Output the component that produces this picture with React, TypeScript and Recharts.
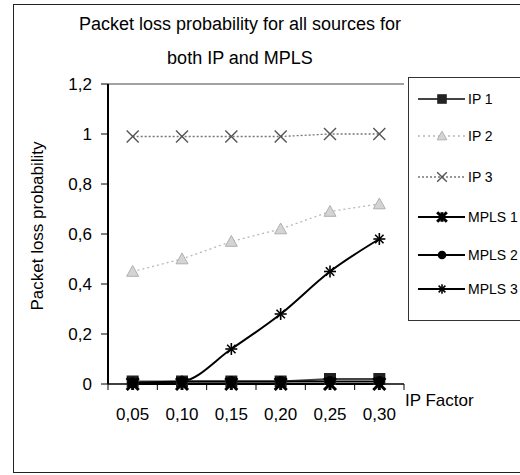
import React from "react";
import { LineChart, Line, XAxis, YAxis, ReferenceLine } from "recharts";

const FONT = '"Liberation Sans", Arial, Helvetica, sans-serif';

// IP factor categories and loss probability per source
const ipFactor = ["0,05", "0,10", "0,15", "0,20", "0,25", "0,30"];
const ip1 = [0.01, 0.01, 0.01, 0.01, 0.02, 0.02];
const ip2 = [0.45, 0.5, 0.57, 0.62, 0.69, 0.72];
const ip3 = [0.99, 0.99, 0.99, 0.99, 1.0, 1.0];
const mpls1 = [0, 0, 0, 0, 0, 0];
const mpls2 = [0.005, 0.01, 0.01, 0.01, 0.01, 0.01];
const mpls3 = [0, 0.01, 0.14, 0.28, 0.45, 0.58];
const yTicks = [0, 0.2, 0.4, 0.6, 0.8, 1, 1.2];

const W = 520;
const H = 475;
const X_AXIS_H = 30;
const MARGIN = { top: 84, right: 116, bottom: 91 - X_AXIS_H, left: 20 };
const Y_AXIS_W = 88;
const PLOT_W = W - MARGIN.left - Y_AXIS_W - MARGIN.right;
const HALF_BAND = PLOT_W / ipFactor.length / 2;

type MarkerKind = "square" | "triangle" | "cross" | "star" | "circle" | "plus";

type Series = {
  key: string;
  name: string;
  values: number[];
  stroke: string;
  width: number;
  dash?: string;
  marker: MarkerKind;
  color: string;
  curve: "linear" | "monotone";
};

const series: Series[] = [
  { key: "ip1", name: "IP 1", values: ip1, stroke: "#444", width: 2, marker: "square", color: "#222", curve: "linear" },
  { key: "ip2", name: "IP 2", values: ip2, stroke: "#b8b8b8", width: 1.3, dash: "2 3", marker: "triangle", color: "#b0b0b0", curve: "linear" },
  { key: "ip3", name: "IP 3", values: ip3, stroke: "#777", width: 1.3, dash: "2 2", marker: "cross", color: "#555", curve: "linear" },
  { key: "mpls1", name: "MPLS 1", values: mpls1, stroke: "#000", width: 2, marker: "star", color: "#000", curve: "linear" },
  { key: "mpls2", name: "MPLS 2", values: mpls2, stroke: "#000", width: 2, marker: "circle", color: "#000", curve: "linear" },
  { key: "mpls3", name: "MPLS 3", values: mpls3, stroke: "#000", width: 2, marker: "plus", color: "#000", curve: "monotone" },
];

// back-to-front drawing order
const drawOrder = ["ip3", "ip2", "mpls3", "ip1", "mpls2", "mpls1"];

const rows = ipFactor.map((x, i) => {
  const row: Record<string, string | number> = { x };
  series.forEach((s) => {
    row[s.key] = s.values[i];
  });
  return row;
});

function Marker({ kind, cx, cy, color, s = 1 }: { kind: MarkerKind; cx: number; cy: number; color: string; s?: number }) {
  const r = 6 * s;
  switch (kind) {
    case "square":
      return <rect x={cx - r} y={cy - r} width={2 * r} height={2 * r} fill={color} />;
    case "triangle":
      return (
        <polygon
          points={`${cx},${cy - r} ${cx + r},${cy + r * 0.8} ${cx - r},${cy + r * 0.8}`}
          fill="#d4d4d4"
          stroke={color}
          strokeWidth={1}
        />
      );
    case "cross":
      return (
        <g stroke={color} strokeWidth={1.4}>
          <line x1={cx - r} y1={cy - r} x2={cx + r} y2={cy + r} />
          <line x1={cx - r} y1={cy + r} x2={cx + r} y2={cy - r} />
        </g>
      );
    case "star":
      return (
        <g stroke={color} strokeWidth={3}>
          <line x1={cx - r} y1={cy - r} x2={cx + r} y2={cy + r} />
          <line x1={cx - r} y1={cy + r} x2={cx + r} y2={cy - r} />
          <line x1={cx} y1={cy - r} x2={cx} y2={cy + r} />
        </g>
      );
    case "circle":
      return <circle cx={cx} cy={cy} r={r * 0.9} fill={color} />;
    case "plus":
      return (
        <g stroke={color} strokeWidth={1.6}>
          <line x1={cx - r} y1={cy} x2={cx + r} y2={cy} />
          <line x1={cx} y1={cy - r} x2={cx} y2={cy + r} />
          <line x1={cx - r * 0.7} y1={cy - r * 0.7} x2={cx + r * 0.7} y2={cy + r * 0.7} />
          <line x1={cx - r * 0.7} y1={cy + r * 0.7} x2={cx + r * 0.7} y2={cy - r * 0.7} />
        </g>
      );
  }
}

function XTick(props: any) {
  const { x, y, payload, index } = props;
  const last = index === ipFactor.length - 1;
  return (
    <g>
      <line x1={x - HALF_BAND} y1={y} x2={x - HALF_BAND} y2={y + 6} stroke="#000" />
      {last && <line x1={x + HALF_BAND} y1={y} x2={x + HALF_BAND} y2={y + 6} stroke="#000" />}
      <text x={x} y={y + 36} textAnchor="middle" fontSize={17} fontFamily={FONT} fill="#000">
        {payload.value}
      </text>
    </g>
  );
}

const fmtY = (v: number) => String(v).replace(".", ",");

function Legend() {
  const rowY = [21, 58, 99, 139, 177, 211];
  return (
    <div
      style={{
        position: "absolute",
        left: 408,
        top: 77,
        width: 140,
        height: 242,
        border: "1px solid #333",
        background: "#fff",
      }}
    >
      <svg width={140} height={242}>
        {series.map((s, i) => (
          <g key={s.key}>
            <line
              x1={9}
              y1={rowY[i]}
              x2={56}
              y2={rowY[i]}
              stroke={s.stroke}
              strokeWidth={s.width}
              strokeDasharray={s.dash}
            />
            <Marker kind={s.marker} cx={33} cy={rowY[i]} color={s.color} s={0.8} />
            <text x={59} y={rowY[i] + 5} fontSize={14} fontFamily={FONT} fill="#000">
              {s.name}
            </text>
          </g>
        ))}
      </svg>
    </div>
  );
}

export default function App() {
  const ordered = drawOrder.map((k) => series.find((s) => s.key === k)!);
  return (
    <div
      style={{
        position: "fixed",
        left: 0,
        top: 0,
        width: W,
        height: H,
        overflow: "hidden",
        background: "#fff",
        fontFamily: FONT,
      }}
    >
      <div
        style={{
          position: "absolute",
          left: 13,
          top: 4,
          width: 560,
          height: 467,
          border: "1px solid #222",
        }}
      />
      <svg width={W} height={80} style={{ position: "absolute", left: 0, top: 0 }}>
        <text x={240} y={30} textAnchor="middle" fontSize={18} fontFamily={FONT} fill="#000">
          Packet loss probability for all sources for
        </text>
        <text x={240} y={64} textAnchor="middle" fontSize={18} fontFamily={FONT} fill="#000">
          both IP and MPLS
        </text>
      </svg>
      <div style={{ position: "absolute", left: 0, top: 0 }}>
        <LineChart width={W} height={H} data={rows} margin={MARGIN}>
          <XAxis
            dataKey="x"
            height={X_AXIS_H}
            padding={{ left: HALF_BAND, right: HALF_BAND }}
            interval={0}
            axisLine={{ stroke: "#000", strokeWidth: 1.5 }}
            tickLine={false}
            tickSize={0}
            tickMargin={0}
            tick={<XTick />}
            label={{
              content: (p: any) => {
                const vb = p.viewBox;
                return (
                  <text x={vb.x + vb.width + 1} y={vb.y + 22} fontSize={17} fontFamily={FONT} fill="#000">
                    IP Factor
                  </text>
                );
              },
            }}
          />
          <YAxis
            yAxisId="left"
            width={Y_AXIS_W}
            domain={[0, 1.2]}
            ticks={yTicks}
            interval={0}
            tickFormatter={fmtY}
            axisLine={{ stroke: "#000", strokeWidth: 2 }}
            tickLine={{ stroke: "#000" }}
            tickSize={7}
            tickMargin={9}
            tick={{ fontSize: 17, fill: "#000", fontFamily: FONT }}
            label={{
              content: () => (
                <text
                  x={37}
                  y={226}
                  transform="rotate(-90 37 226)"
                  textAnchor="middle"
                  dominantBaseline="central"
                  fontSize={17}
                  fontFamily={FONT}
                  fill="#000"
                >
                  Packet loss probability
                </text>
              ),
            }}
          />
          <YAxis
            yAxisId="right"
            orientation="right"
            width={0}
            domain={[0, 1.2]}
            tick={false}
            tickLine={false}
            axisLine={{ stroke: "#444" }}
          />
          <ReferenceLine yAxisId="left" y={1.2} stroke="#444" />
          {ordered.map((s) => (
            <Line
              key={s.key}
              yAxisId="left"
              type={s.curve}
              dataKey={s.key}
              stroke={s.stroke}
              strokeWidth={s.width}
              strokeDasharray={s.dash}
              dot={(p: any) => <Marker key={`${s.key}-${p.index}`} kind={s.marker} cx={p.cx} cy={p.cy} color={s.color} />}
              activeDot={false}
              isAnimationActive={false}
            />
          ))}
        </LineChart>
      </div>
      <Legend />
    </div>
  );
}
